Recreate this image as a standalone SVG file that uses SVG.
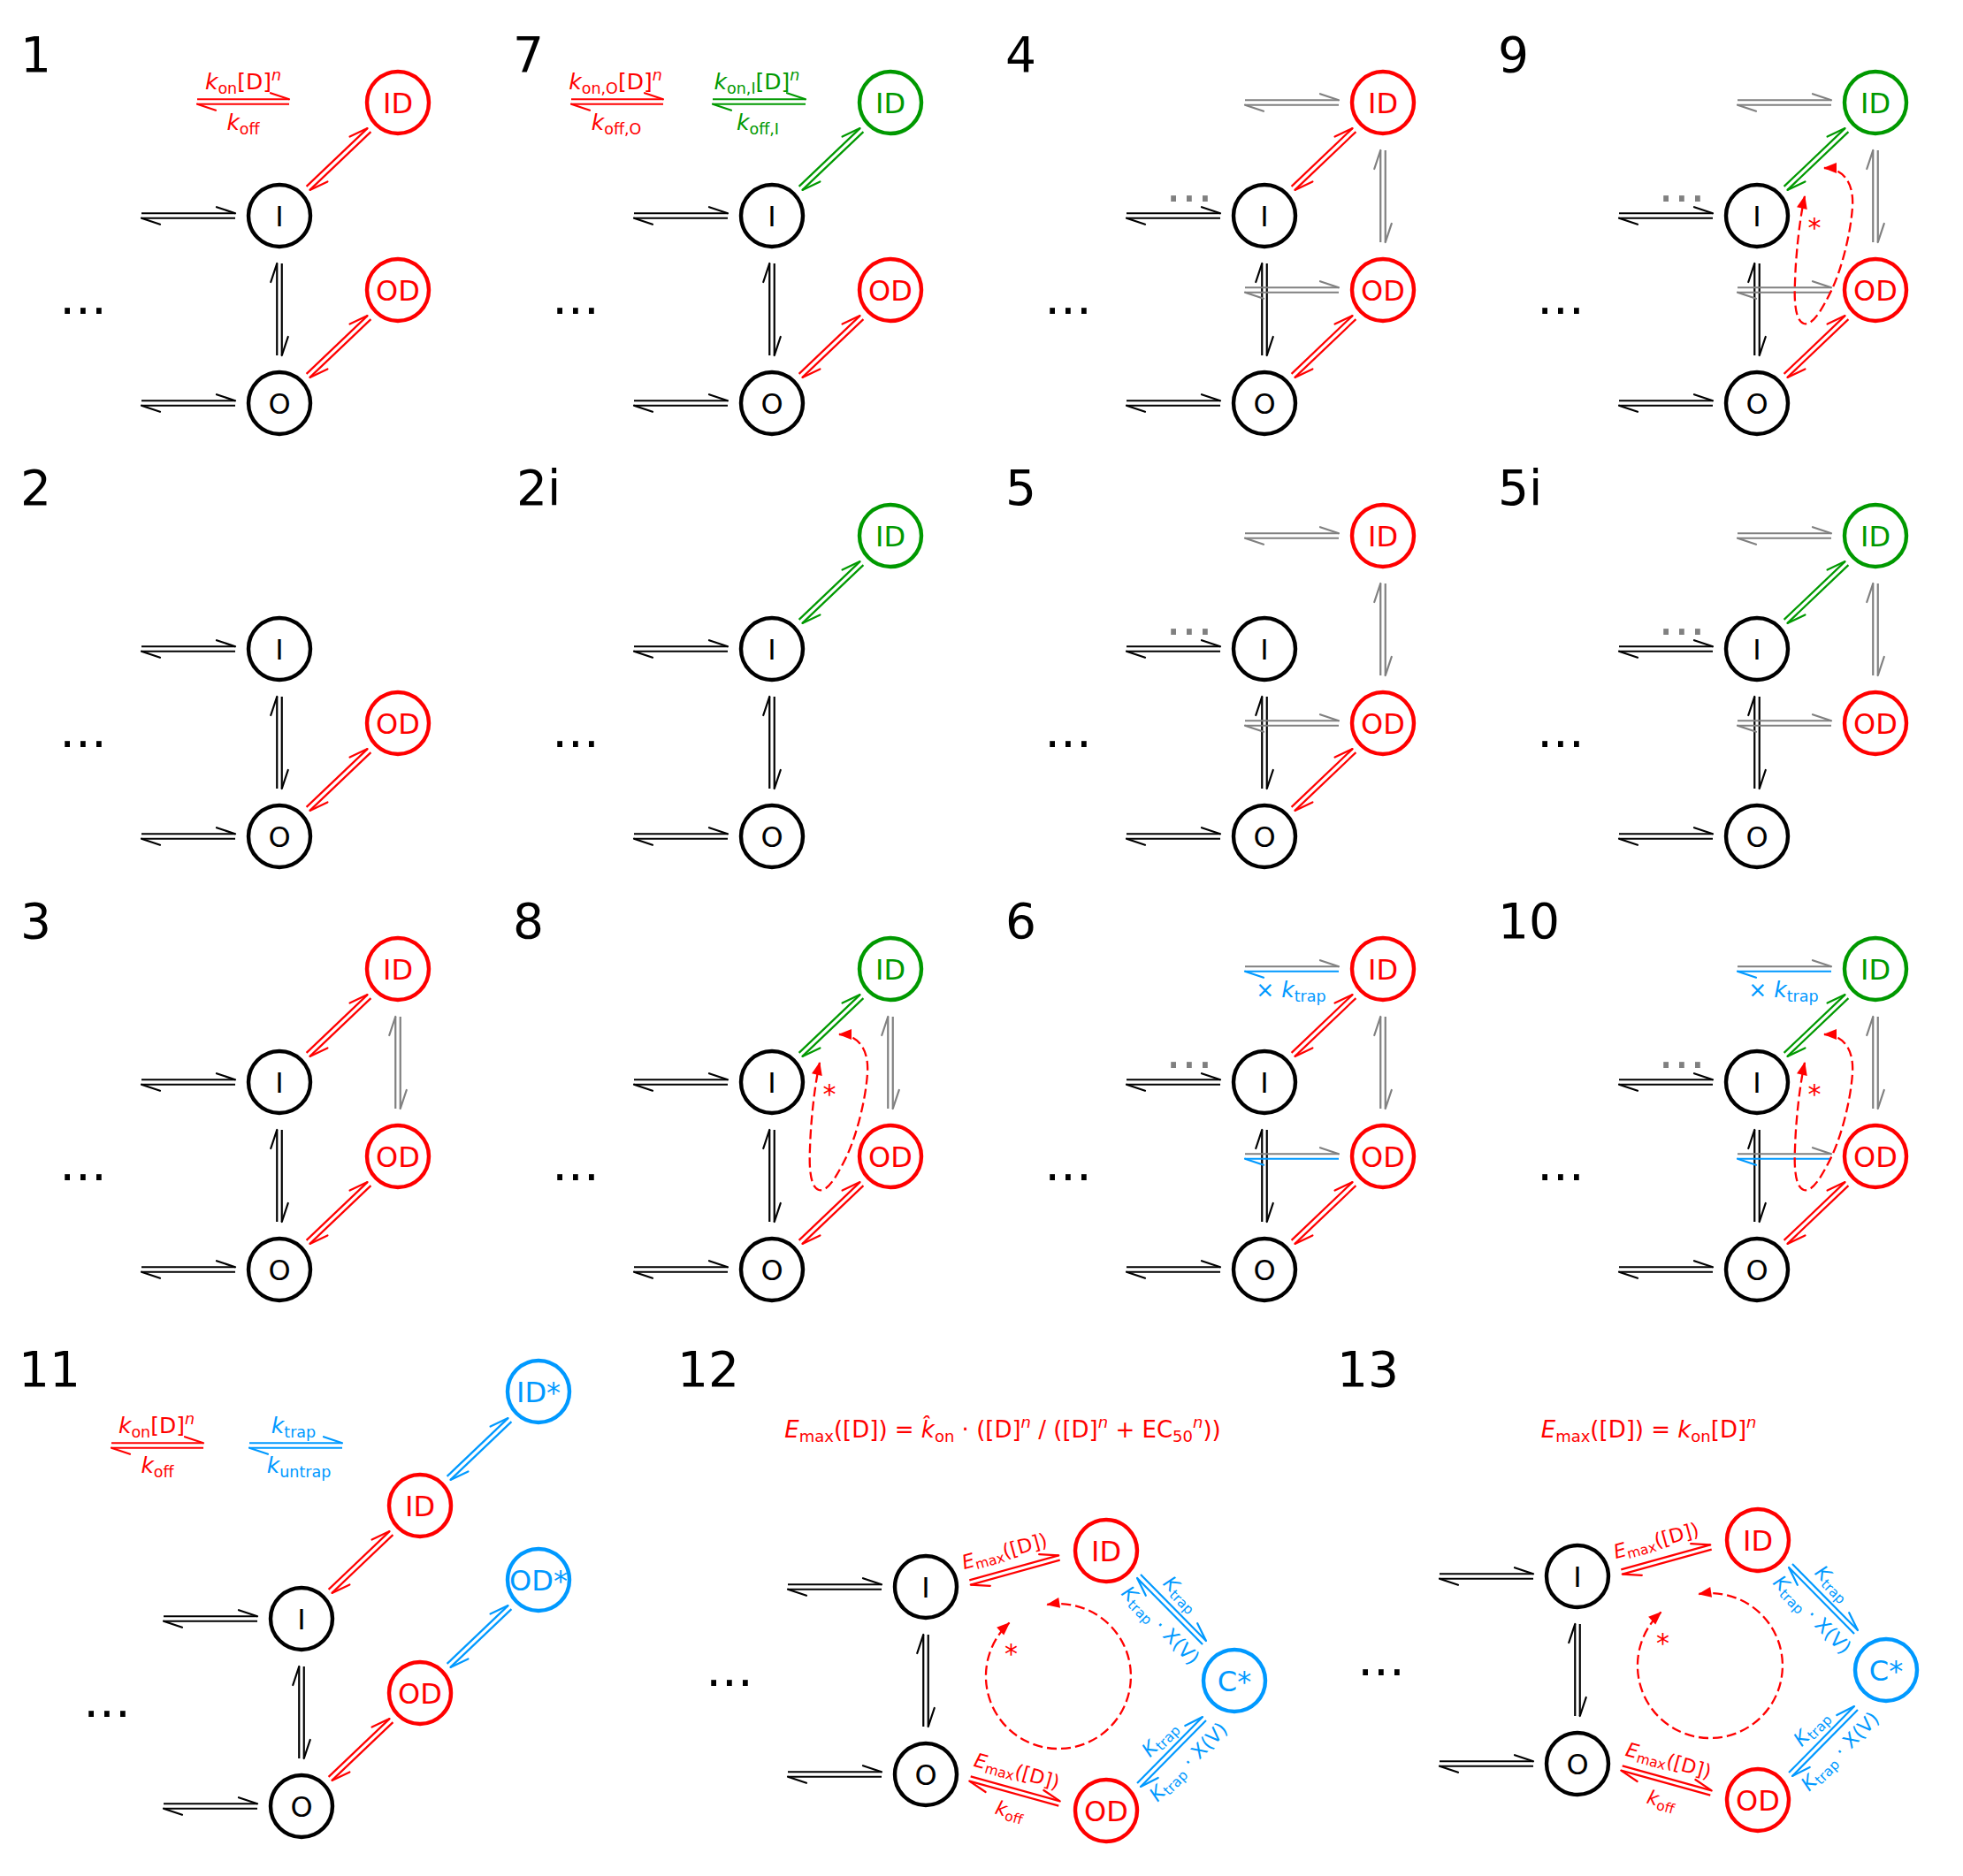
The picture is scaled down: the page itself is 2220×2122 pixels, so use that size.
<svg xmlns="http://www.w3.org/2000/svg" width="2220" height="2122" viewBox="0 0 2220 2122">
<defs>
<style>
text{font-family:"DejaVu Sans","Liberation Sans",sans-serif}
.pl{font-size:55px;fill:#000}
.nt{font-size:32px;text-anchor:middle}
.ck{fill:#fff;stroke:#000;stroke-width:4.4}
.cr{fill:#fff;stroke:#f00;stroke-width:4.4}
.cg{fill:#fff;stroke:#090;stroke-width:4.4}
.cb{fill:#fff;stroke:#09f;stroke-width:4.4}
.tk{fill:#000}.tr{fill:#f00}.tg{fill:#090}.tb{fill:#09f}.tgr{fill:#808080}
.cn{fill:none;stroke-width:2.2}
.k{stroke:#000;marker-end:url(#mk)}
.r{stroke:#f00;marker-end:url(#mr)}
.g{stroke:#090;marker-end:url(#mg)}
.b{stroke:#09f;marker-end:url(#mb)}
.y{stroke:#808080;marker-end:url(#my)}
.dash{fill:none;stroke:#f00;stroke-width:2.3;stroke-dasharray:11 5;marker-start:url(#ah);marker-end:url(#ah)}
.it{font-style:italic}
.lg{font-size:25px;text-anchor:middle}
.al{font-size:22px;text-anchor:middle}
.el{font-size:56px;text-anchor:middle}
.st{font-size:30px;text-anchor:middle;fill:#f00}
</style>
<marker id="mk" markerUnits="userSpaceOnUse" orient="auto" refX="0" refY="0" markerWidth="1" markerHeight="1" style="overflow:visible"><path d="M0,0L-21,-7" fill="none" stroke="#000" stroke-width="2.2" stroke-linecap="round"/></marker>
<marker id="mr" markerUnits="userSpaceOnUse" orient="auto" refX="0" refY="0" markerWidth="1" markerHeight="1" style="overflow:visible"><path d="M0,0L-21,-7" fill="none" stroke="#f00" stroke-width="2.2" stroke-linecap="round"/></marker>
<marker id="mg" markerUnits="userSpaceOnUse" orient="auto" refX="0" refY="0" markerWidth="1" markerHeight="1" style="overflow:visible"><path d="M0,0L-21,-7" fill="none" stroke="#090" stroke-width="2.2" stroke-linecap="round"/></marker>
<marker id="mb" markerUnits="userSpaceOnUse" orient="auto" refX="0" refY="0" markerWidth="1" markerHeight="1" style="overflow:visible"><path d="M0,0L-21,-7" fill="none" stroke="#09f" stroke-width="2.2" stroke-linecap="round"/></marker>
<marker id="my" markerUnits="userSpaceOnUse" orient="auto" refX="0" refY="0" markerWidth="1" markerHeight="1" style="overflow:visible"><path d="M0,0L-21,-7" fill="none" stroke="#808080" stroke-width="2.2" stroke-linecap="round"/></marker>
<marker id="ah" markerUnits="userSpaceOnUse" orient="auto-start-reverse" refX="0" refY="0" markerWidth="1" markerHeight="1" style="overflow:visible"><path d="M1,0L-14,-6L-14,6Z" fill="#f00"/></marker>
</defs>
<rect width="2220" height="2122" fill="#fff"/>

<!-- Panel 1 -->
<g id="p1">
<text class="pl" x="23" y="81">1</text>
<g transform="translate(316,244)">
<g id="p1-conn" class="cn">
<path class="k" d="M-156,-2.75H-50"/><path class="k" d="M-50,2.75H-156"/><path class="k" d="M-156,209.25H-50"/><path class="k" d="M-50,214.75H-156"/><path class="k" d="M-2.75,158V54"/><path class="k" d="M2.75,54V158"/>
<path class="r" d="M30.6,-33.1L99.6,-98.9"/><path class="r" d="M103.4,-94.9L34.4,-29.1"/>
<path class="r" d="M30.6,178.9L99.6,113.1"/><path class="r" d="M103.4,117.1L34.4,182.9"/>
<path class="r" d="M-93,-131.75H11"/><path class="r" d="M11,-126.25H-93"/>
</g>
<text class="lg tr" x="-41" y="-143.5"><tspan class="it">k</tspan><tspan font-size="17.5" dy="5">on</tspan><tspan dy="-5">[D]</tspan><tspan class="it" font-size="17.5" dy="-10">n</tspan></text>
<text class="lg tr" x="-41" y="-97.5"><tspan class="it">k</tspan><tspan font-size="17.5" dy="5">off</tspan></text>
<text class="el tk" x="-222" y="111">...</text>
<g id="p1-I"><circle class="ck" r="35"/><text class="nt tk" y="11.7">I</text></g>
<g id="p1-O"><circle class="ck" cy="212" r="35"/><text class="nt tk" y="223.7">O</text></g>
<g id="p1-ID"><circle class="cr" cx="134" cy="-128" r="35"/><text class="nt tr" x="134" y="-116.3">ID</text></g>
<g id="p1-OD"><circle class="cr" cx="134" cy="84" r="35"/><text class="nt tr" x="134" y="95.7">OD</text></g>
</g>
</g>

<!-- Panel 7 -->
<g id="p7">
<text class="pl" x="580" y="81">7</text>
<g transform="translate(873,244)">
<g id="p7-conn" class="cn">
<path class="k" d="M-156,-2.75H-50"/><path class="k" d="M-50,2.75H-156"/><path class="k" d="M-156,209.25H-50"/><path class="k" d="M-50,214.75H-156"/><path class="k" d="M-2.75,158V54"/><path class="k" d="M2.75,54V158"/>
<path class="g" d="M30.6,-33.1L99.6,-98.9"/><path class="g" d="M103.4,-94.9L34.4,-29.1"/>
<path class="r" d="M30.6,178.9L99.6,113.1"/><path class="r" d="M103.4,117.1L34.4,182.9"/>
<path class="r" d="M-227,-131.75H-123"/><path class="r" d="M-123,-126.25H-227"/>
<path class="g" d="M-67,-131.75H38"/><path class="g" d="M38,-126.25H-67"/>
</g>
<text class="lg tr" x="-177" y="-143.5"><tspan class="it">k</tspan><tspan font-size="17.5" dy="5">on,O</tspan><tspan dy="-5">[D]</tspan><tspan class="it" font-size="17.5" dy="-10">n</tspan></text>
<text class="lg tr" x="-176" y="-97.5"><tspan class="it">k</tspan><tspan font-size="17.5" dy="5">off,O</tspan></text>
<text class="lg tg" x="-17" y="-143.5"><tspan class="it">k</tspan><tspan font-size="17.5" dy="5">on,I</tspan><tspan dy="-5">[D]</tspan><tspan class="it" font-size="17.5" dy="-10">n</tspan></text>
<text class="lg tg" x="-16" y="-97.5"><tspan class="it">k</tspan><tspan font-size="17.5" dy="5">off,I</tspan></text>
<text class="el tk" x="-222" y="111">...</text>
<g id="p7-I"><circle class="ck" r="35"/><text class="nt tk" y="11.7">I</text></g>
<g id="p7-O"><circle class="ck" cy="212" r="35"/><text class="nt tk" y="223.7">O</text></g>
<g id="p7-ID"><circle class="cg" cx="134" cy="-128" r="35"/><text class="nt tg" x="134" y="-116.3">ID</text></g>
<g id="p7-OD"><circle class="cr" cx="134" cy="84" r="35"/><text class="nt tr" x="134" y="95.7">OD</text></g>
</g>
</g>

<!-- Panel 4 -->
<g id="p4">
<text class="pl" x="1137" y="81">4</text>
<g transform="translate(1430,244)">
<g id="p4-conn" class="cn">
<path class="k" d="M-156,-2.75H-50"/><path class="k" d="M-50,2.75H-156"/><path class="k" d="M-156,209.25H-50"/><path class="k" d="M-50,214.75H-156"/><path class="k" d="M-2.75,158V54"/><path class="k" d="M2.75,54V158"/>
<path class="y" d="M-22,-130.75H84"/><path class="y" d="M84,-125.25H-22"/>
<path class="y" d="M-22,81.25H84"/><path class="y" d="M84,86.75H-22"/>
<path class="y" d="M131.25,30V-74"/><path class="y" d="M136.75,-74V30"/>
<path class="r" d="M30.6,-33.1L99.6,-98.9"/><path class="r" d="M103.4,-94.9L34.4,-29.1"/>
<path class="r" d="M30.6,178.9L99.6,113.1"/><path class="r" d="M103.4,117.1L34.4,182.9"/>
</g>
<text class="el tk" x="-222" y="111">...</text>
<text class="el tgr" x="-85" y="-16">...</text>
<g id="p4-I"><circle class="ck" r="35"/><text class="nt tk" y="11.7">I</text></g>
<g id="p4-O"><circle class="ck" cy="212" r="35"/><text class="nt tk" y="223.7">O</text></g>
<g id="p4-ID"><circle class="cr" cx="134" cy="-128" r="35"/><text class="nt tr" x="134" y="-116.3">ID</text></g>
<g id="p4-OD"><circle class="cr" cx="134" cy="84" r="35"/><text class="nt tr" x="134" y="95.7">OD</text></g>
</g>
</g>

<!-- Panel 9 -->
<g id="p9">
<text class="pl" x="1694" y="81">9</text>
<g transform="translate(1987,244)">
<g id="p9-conn" class="cn">
<path class="k" d="M-156,-2.75H-50"/><path class="k" d="M-50,2.75H-156"/><path class="k" d="M-156,209.25H-50"/><path class="k" d="M-50,214.75H-156"/><path class="k" d="M-2.75,158V54"/><path class="k" d="M2.75,54V158"/>
<path class="y" d="M-22,-130.75H84"/><path class="y" d="M84,-125.25H-22"/>
<path class="y" d="M-22,81.25H84"/><path class="y" d="M84,86.75H-22"/>
<path class="y" d="M131.25,30V-74"/><path class="y" d="M136.75,-74V30"/>
<path class="g" d="M30.6,-33.1L99.6,-98.9"/><path class="g" d="M103.4,-94.9L34.4,-29.1"/>
<path class="r" d="M30.6,178.9L99.6,113.1"/><path class="r" d="M103.4,117.1L34.4,182.9"/>
<path class="dash" d="M76,-54C95,-54 110,-40 108,-10C106,20 96,60 84,85C74,105 63,125 53,122C43,119 42,95 43,75C44,40 49,0 54,-22"/>
</g>
<text class="st" x="65" y="24">*</text>
<text class="el tk" x="-222" y="111">...</text>
<text class="el tgr" x="-85" y="-16">...</text>
<g id="p9-I"><circle class="ck" r="35"/><text class="nt tk" y="11.7">I</text></g>
<g id="p9-O"><circle class="ck" cy="212" r="35"/><text class="nt tk" y="223.7">O</text></g>
<g id="p9-ID"><circle class="cg" cx="134" cy="-128" r="35"/><text class="nt tg" x="134" y="-116.3">ID</text></g>
<g id="p9-OD"><circle class="cr" cx="134" cy="84" r="35"/><text class="nt tr" x="134" y="95.7">OD</text></g>
</g>
</g>

<!-- Panel 2 -->
<g id="p2">
<text class="pl" x="23" y="571">2</text>
<g transform="translate(316,734)">
<g id="p2-conn" class="cn">
<path class="k" d="M-156,-2.75H-50"/><path class="k" d="M-50,2.75H-156"/><path class="k" d="M-156,209.25H-50"/><path class="k" d="M-50,214.75H-156"/><path class="k" d="M-2.75,158V54"/><path class="k" d="M2.75,54V158"/>
<path class="r" d="M30.6,178.9L99.6,113.1"/><path class="r" d="M103.4,117.1L34.4,182.9"/>
</g>
<text class="el tk" x="-222" y="111">...</text>
<g id="p2-I"><circle class="ck" r="35"/><text class="nt tk" y="11.7">I</text></g>
<g id="p2-O"><circle class="ck" cy="212" r="35"/><text class="nt tk" y="223.7">O</text></g>
<g id="p2-OD"><circle class="cr" cx="134" cy="84" r="35"/><text class="nt tr" x="134" y="95.7">OD</text></g>
</g>
</g>

<!-- Panel 2i -->
<g id="p2i">
<text class="pl" x="584" y="571">2i</text>
<g transform="translate(873,734)">
<g id="p2i-conn" class="cn">
<path class="k" d="M-156,-2.75H-50"/><path class="k" d="M-50,2.75H-156"/><path class="k" d="M-156,209.25H-50"/><path class="k" d="M-50,214.75H-156"/><path class="k" d="M-2.75,158V54"/><path class="k" d="M2.75,54V158"/>
<path class="g" d="M30.6,-33.1L99.6,-98.9"/><path class="g" d="M103.4,-94.9L34.4,-29.1"/>
</g>
<text class="el tk" x="-222" y="111">...</text>
<g id="p2i-I"><circle class="ck" r="35"/><text class="nt tk" y="11.7">I</text></g>
<g id="p2i-O"><circle class="ck" cy="212" r="35"/><text class="nt tk" y="223.7">O</text></g>
<g id="p2i-ID"><circle class="cg" cx="134" cy="-128" r="35"/><text class="nt tg" x="134" y="-116.3">ID</text></g>
</g>
</g>

<!-- Panel 5 -->
<g id="p5">
<text class="pl" x="1137" y="571">5</text>
<g transform="translate(1430,734)">
<g id="p5-conn" class="cn">
<path class="k" d="M-156,-2.75H-50"/><path class="k" d="M-50,2.75H-156"/><path class="k" d="M-156,209.25H-50"/><path class="k" d="M-50,214.75H-156"/><path class="k" d="M-2.75,158V54"/><path class="k" d="M2.75,54V158"/>
<path class="y" d="M-22,-130.75H84"/><path class="y" d="M84,-125.25H-22"/>
<path class="y" d="M-22,81.25H84"/><path class="y" d="M84,86.75H-22"/>
<path class="y" d="M131.25,30V-74"/><path class="y" d="M136.75,-74V30"/>
<path class="r" d="M30.6,178.9L99.6,113.1"/><path class="r" d="M103.4,117.1L34.4,182.9"/>
</g>
<text class="el tk" x="-222" y="111">...</text>
<text class="el tgr" x="-85" y="-16">...</text>
<g id="p5-I"><circle class="ck" r="35"/><text class="nt tk" y="11.7">I</text></g>
<g id="p5-O"><circle class="ck" cy="212" r="35"/><text class="nt tk" y="223.7">O</text></g>
<g id="p5-ID"><circle class="cr" cx="134" cy="-128" r="35"/><text class="nt tr" x="134" y="-116.3">ID</text></g>
<g id="p5-OD"><circle class="cr" cx="134" cy="84" r="35"/><text class="nt tr" x="134" y="95.7">OD</text></g>
</g>
</g>

<!-- Panel 5i -->
<g id="p5i">
<text class="pl" x="1694" y="571">5i</text>
<g transform="translate(1987,734)">
<g id="p5i-conn" class="cn">
<path class="k" d="M-156,-2.75H-50"/><path class="k" d="M-50,2.75H-156"/><path class="k" d="M-156,209.25H-50"/><path class="k" d="M-50,214.75H-156"/><path class="k" d="M-2.75,158V54"/><path class="k" d="M2.75,54V158"/>
<path class="y" d="M-22,-130.75H84"/><path class="y" d="M84,-125.25H-22"/>
<path class="y" d="M-22,81.25H84"/><path class="y" d="M84,86.75H-22"/>
<path class="y" d="M131.25,30V-74"/><path class="y" d="M136.75,-74V30"/>
<path class="g" d="M30.6,-33.1L99.6,-98.9"/><path class="g" d="M103.4,-94.9L34.4,-29.1"/>
</g>
<text class="el tk" x="-222" y="111">...</text>
<text class="el tgr" x="-85" y="-16">...</text>
<g id="p5i-I"><circle class="ck" r="35"/><text class="nt tk" y="11.7">I</text></g>
<g id="p5i-O"><circle class="ck" cy="212" r="35"/><text class="nt tk" y="223.7">O</text></g>
<g id="p5i-ID"><circle class="cg" cx="134" cy="-128" r="35"/><text class="nt tg" x="134" y="-116.3">ID</text></g>
<g id="p5i-OD"><circle class="cr" cx="134" cy="84" r="35"/><text class="nt tr" x="134" y="95.7">OD</text></g>
</g>
</g>

<!-- Panel 3 -->
<g id="p3">
<text class="pl" x="23" y="1061">3</text>
<g transform="translate(316,1224)">
<g id="p3-conn" class="cn">
<path class="k" d="M-156,-2.75H-50"/><path class="k" d="M-50,2.75H-156"/><path class="k" d="M-156,209.25H-50"/><path class="k" d="M-50,214.75H-156"/><path class="k" d="M-2.75,158V54"/><path class="k" d="M2.75,54V158"/>
<path class="y" d="M131.25,30V-74"/><path class="y" d="M136.75,-74V30"/>
<path class="r" d="M30.6,-33.1L99.6,-98.9"/><path class="r" d="M103.4,-94.9L34.4,-29.1"/>
<path class="r" d="M30.6,178.9L99.6,113.1"/><path class="r" d="M103.4,117.1L34.4,182.9"/>
</g>
<text class="el tk" x="-222" y="111">...</text>
<g id="p3-I"><circle class="ck" r="35"/><text class="nt tk" y="11.7">I</text></g>
<g id="p3-O"><circle class="ck" cy="212" r="35"/><text class="nt tk" y="223.7">O</text></g>
<g id="p3-ID"><circle class="cr" cx="134" cy="-128" r="35"/><text class="nt tr" x="134" y="-116.3">ID</text></g>
<g id="p3-OD"><circle class="cr" cx="134" cy="84" r="35"/><text class="nt tr" x="134" y="95.7">OD</text></g>
</g>
</g>

<!-- Panel 8 -->
<g id="p8">
<text class="pl" x="580" y="1061">8</text>
<g transform="translate(873,1224)">
<g id="p8-conn" class="cn">
<path class="k" d="M-156,-2.75H-50"/><path class="k" d="M-50,2.75H-156"/><path class="k" d="M-156,209.25H-50"/><path class="k" d="M-50,214.75H-156"/><path class="k" d="M-2.75,158V54"/><path class="k" d="M2.75,54V158"/>
<path class="y" d="M131.25,30V-74"/><path class="y" d="M136.75,-74V30"/>
<path class="g" d="M30.6,-33.1L99.6,-98.9"/><path class="g" d="M103.4,-94.9L34.4,-29.1"/>
<path class="r" d="M30.6,178.9L99.6,113.1"/><path class="r" d="M103.4,117.1L34.4,182.9"/>
<path class="dash" d="M76,-54C95,-54 110,-40 108,-10C106,20 96,60 84,85C74,105 63,125 53,122C43,119 42,95 43,75C44,40 49,0 54,-22"/>
</g>
<text class="st" x="65" y="24">*</text>
<text class="el tk" x="-222" y="111">...</text>
<g id="p8-I"><circle class="ck" r="35"/><text class="nt tk" y="11.7">I</text></g>
<g id="p8-O"><circle class="ck" cy="212" r="35"/><text class="nt tk" y="223.7">O</text></g>
<g id="p8-ID"><circle class="cg" cx="134" cy="-128" r="35"/><text class="nt tg" x="134" y="-116.3">ID</text></g>
<g id="p8-OD"><circle class="cr" cx="134" cy="84" r="35"/><text class="nt tr" x="134" y="95.7">OD</text></g>
</g>
</g>

<!-- Panel 6 -->
<g id="p6">
<text class="pl" x="1137" y="1061">6</text>
<g transform="translate(1430,1224)">
<g id="p6-conn" class="cn">
<path class="k" d="M-156,-2.75H-50"/><path class="k" d="M-50,2.75H-156"/><path class="k" d="M-156,209.25H-50"/><path class="k" d="M-50,214.75H-156"/><path class="k" d="M-2.75,158V54"/><path class="k" d="M2.75,54V158"/>
<path class="y" d="M-22,-130.75H84"/><path class="b" d="M84,-125.25H-22"/>
<path class="y" d="M-22,81.25H84"/><path class="b" d="M84,86.75H-22"/>
<path class="y" d="M131.25,30V-74"/><path class="y" d="M136.75,-74V30"/>
<path class="r" d="M30.6,-33.1L99.6,-98.9"/><path class="r" d="M103.4,-94.9L34.4,-29.1"/>
<path class="r" d="M30.6,178.9L99.6,113.1"/><path class="r" d="M103.4,117.1L34.4,182.9"/>
</g>
<text class="lg tb" x="30" y="-96">&#xD7; <tspan class="it">k</tspan><tspan font-size="17.5" dy="5">trap</tspan></text>
<text class="el tk" x="-222" y="111">...</text>
<text class="el tgr" x="-85" y="-16">...</text>
<g id="p6-I"><circle class="ck" r="35"/><text class="nt tk" y="11.7">I</text></g>
<g id="p6-O"><circle class="ck" cy="212" r="35"/><text class="nt tk" y="223.7">O</text></g>
<g id="p6-ID"><circle class="cr" cx="134" cy="-128" r="35"/><text class="nt tr" x="134" y="-116.3">ID</text></g>
<g id="p6-OD"><circle class="cr" cx="134" cy="84" r="35"/><text class="nt tr" x="134" y="95.7">OD</text></g>
</g>
</g>

<!-- Panel 10 -->
<g id="p10">
<text class="pl" x="1694" y="1061">10</text>
<g transform="translate(1987,1224)">
<g id="p10-conn" class="cn">
<path class="k" d="M-156,-2.75H-50"/><path class="k" d="M-50,2.75H-156"/><path class="k" d="M-156,209.25H-50"/><path class="k" d="M-50,214.75H-156"/><path class="k" d="M-2.75,158V54"/><path class="k" d="M2.75,54V158"/>
<path class="y" d="M-22,-130.75H84"/><path class="b" d="M84,-125.25H-22"/>
<path class="y" d="M-22,81.25H84"/><path class="b" d="M84,86.75H-22"/>
<path class="y" d="M131.25,30V-74"/><path class="y" d="M136.75,-74V30"/>
<path class="g" d="M30.6,-33.1L99.6,-98.9"/><path class="g" d="M103.4,-94.9L34.4,-29.1"/>
<path class="r" d="M30.6,178.9L99.6,113.1"/><path class="r" d="M103.4,117.1L34.4,182.9"/>
<path class="dash" d="M76,-54C95,-54 110,-40 108,-10C106,20 96,60 84,85C74,105 63,125 53,122C43,119 42,95 43,75C44,40 49,0 54,-22"/>
</g>
<text class="st" x="65" y="24">*</text>
<text class="lg tb" x="30" y="-96">&#xD7; <tspan class="it">k</tspan><tspan font-size="17.5" dy="5">trap</tspan></text>
<text class="el tk" x="-222" y="111">...</text>
<text class="el tgr" x="-85" y="-16">...</text>
<g id="p10-I"><circle class="ck" r="35"/><text class="nt tk" y="11.7">I</text></g>
<g id="p10-O"><circle class="ck" cy="212" r="35"/><text class="nt tk" y="223.7">O</text></g>
<g id="p10-ID"><circle class="cg" cx="134" cy="-128" r="35"/><text class="nt tg" x="134" y="-116.3">ID</text></g>
<g id="p10-OD"><circle class="cr" cx="134" cy="84" r="35"/><text class="nt tr" x="134" y="95.7">OD</text></g>
</g>
</g>

<!-- Panel 11 -->
<g id="p11">
<text class="pl" x="21" y="1568">11</text>
<g transform="translate(341,1831)">
<g id="p11-conn" class="cn">
<path class="k" d="M-156,-2.75H-50"/><path class="k" d="M-50,2.75H-156"/><path class="k" d="M-156,209.25H-50"/><path class="k" d="M-50,214.75H-156"/><path class="k" d="M-2.75,158V54"/><path class="k" d="M2.75,54V158"/>
<path class="r" d="M30.6,-33.1L99.6,-98.9"/><path class="r" d="M103.4,-94.9L34.4,-29.1"/>
<path class="r" d="M30.6,178.9L99.6,113.1"/><path class="r" d="M103.4,117.1L34.4,182.9"/>
<path class="b" d="M164.6,-161.1L233.6,-226.9"/><path class="b" d="M237.4,-222.9L168.4,-157.1"/>
<path class="b" d="M164.6,50.9L233.6,-14.9"/><path class="b" d="M237.4,-10.9L168.4,54.9"/>
<path class="r" d="M-215,-198.75H-111"/><path class="r" d="M-111,-193.25H-215"/>
<path class="b" d="M-59,-198.75H46"/><path class="b" d="M46,-193.25H-59"/>
</g>
<text class="lg tr" x="-164" y="-210"><tspan class="it">k</tspan><tspan font-size="17.5" dy="5">on</tspan><tspan dy="-5">[D]</tspan><tspan class="it" font-size="17.5" dy="-10">n</tspan></text>
<text class="lg tr" x="-163" y="-165"><tspan class="it">k</tspan><tspan font-size="17.5" dy="5">off</tspan></text>
<text class="lg tb" x="-9" y="-210"><tspan class="it">k</tspan><tspan font-size="17.5" dy="5">trap</tspan></text>
<text class="lg tb" x="-3" y="-165"><tspan class="it">k</tspan><tspan font-size="17.5" dy="5">untrap</tspan></text>
<text class="el tk" x="-220" y="111">...</text>
<g id="p11-I"><circle class="ck" r="35"/><text class="nt tk" y="11.7">I</text></g>
<g id="p11-O"><circle class="ck" cy="212" r="35"/><text class="nt tk" y="223.7">O</text></g>
<g id="p11-ID"><circle class="cr" cx="134" cy="-128" r="35"/><text class="nt tr" x="134" y="-116.3">ID</text></g>
<g id="p11-OD"><circle class="cr" cx="134" cy="84" r="35"/><text class="nt tr" x="134" y="95.7">OD</text></g>
<g id="p11-IDs"><circle class="cb" cx="268" cy="-257" r="35"/><text class="nt tb" x="268" y="-245.3">ID*</text></g>
<g id="p11-ODs"><circle class="cb" cx="268" cy="-44" r="35"/><text class="nt tb" x="268" y="-32.3">OD*</text></g>
</g>
</g>

<!-- Panel 12 -->
<g id="p12">
<text class="pl" x="766" y="1568">12</text>
<g transform="translate(1047,1795)">
<g id="p12-conn" class="cn">
<path class="k" d="M-156,-2.75H-50"/><path class="k" d="M-50,2.75H-156"/><path class="k" d="M-156,209.25H-50"/><path class="k" d="M-50,214.75H-156"/><path class="k" d="M-2.75,158V54"/><path class="k" d="M2.75,54V158"/>
<path class="r" d="M49.27,-7.65L150.27,-35.65"/><path class="r" d="M151.73,-30.35L50.73,-2.35"/>
<path class="r" d="M50.73,214.35L151.73,242.35"/><path class="r" d="M150.27,247.65L49.27,219.65"/>
<path class="b" d="M242.96,-13.93L316.96,61.07"/><path class="b" d="M313.04,64.93L239.04,-10.07"/>
<path class="b" d="M239.04,222.07L313.04,147.07"/><path class="b" d="M316.96,150.93L242.96,225.93"/>
<path class="dash" d="M137.3,20A82,82 0 1 1 94.5,40.6"/>
</g>
<text class="tr" font-size="26" x="87" y="-169" text-anchor="middle"><tspan class="it">E</tspan><tspan font-size="18" dy="5">max</tspan><tspan dy="-5">([D]) = </tspan><tspan class="it">k&#x302;</tspan><tspan font-size="18" dy="5">on</tspan><tspan dy="-5"> &#xB7; ([D]</tspan><tspan class="it" font-size="18" dy="-11">n</tspan><tspan dy="11"> / ([D]</tspan><tspan class="it" font-size="18" dy="-11">n</tspan><tspan dy="11"> + EC</tspan><tspan font-size="18" dy="5">50</tspan><tspan class="it" font-size="18" dy="-16">n</tspan><tspan dy="11">))</tspan></text>
<text class="al tr" transform="translate(91,-33) rotate(-15.5)"><tspan class="it">E</tspan><tspan font-size="15.5" dy="4">max</tspan><tspan dy="-4">([D])</tspan></text>
<text class="al tr" transform="translate(101,215.7) rotate(15.5)"><tspan class="it">E</tspan><tspan font-size="15.5" dy="4">max</tspan><tspan dy="-4">([D])</tspan></text>
<text class="al tr" transform="translate(93,260.7) rotate(15.5)"><tspan class="it">k</tspan><tspan font-size="15.5" dy="4">off</tspan></text>
<text class="al tb" transform="translate(283.4,13.1) rotate(45.4)"><tspan class="it">K</tspan><tspan font-size="15.5" dy="4">trap</tspan></text>
<text class="al tb" transform="translate(260.1,48.7) rotate(45.4)"><tspan class="it">K</tspan><tspan font-size="15.5" dy="4">trap</tspan><tspan dy="-4"> &#xB7; X(V)</tspan></text>
<text class="al tb" transform="translate(269.8,177) rotate(-45.4)"><tspan class="it">K</tspan><tspan font-size="15.5" dy="4">trap</tspan></text>
<text class="al tb" transform="translate(302.3,203.2) rotate(-45.4)"><tspan class="it">K</tspan><tspan font-size="15.5" dy="4">trap</tspan><tspan dy="-4"> &#xB7; X(V)</tspan></text>
<text class="st" x="96.4" y="86">*</text>
<text class="el tk" x="-222" y="112">...</text>
<g id="p12-I"><circle class="ck" r="35"/><text class="nt tk" y="11.7">I</text></g>
<g id="p12-O"><circle class="ck" cy="212" r="35"/><text class="nt tk" y="223.7">O</text></g>
<g id="p12-ID"><circle class="cr" cx="204" cy="-41" r="35"/><text class="nt tr" x="204" y="-29.3">ID</text></g>
<g id="p12-OD"><circle class="cr" cx="204" cy="253" r="35"/><text class="nt tr" x="204" y="264.7">OD</text></g>
<g id="p12-C"><circle class="cb" cx="349" cy="106" r="35"/><text class="nt tb" x="349" y="117.7">C*</text></g>
</g>
</g>

<!-- Panel 13 -->
<g id="p13">
<text class="pl" x="1512" y="1568">13</text>
<g transform="translate(1784,1783)">
<g id="p13-conn" class="cn">
<path class="k" d="M-156,-2.75H-50"/><path class="k" d="M-50,2.75H-156"/><path class="k" d="M-156,209.25H-50"/><path class="k" d="M-50,214.75H-156"/><path class="k" d="M-2.75,158V54"/><path class="k" d="M2.75,54V158"/>
<path class="r" d="M49.27,-7.65L150.27,-35.65"/><path class="r" d="M151.73,-30.35L50.73,-2.35"/>
<path class="r" d="M50.73,214.35L151.73,242.35"/><path class="r" d="M150.27,247.65L49.27,219.65"/>
<path class="b" d="M242.96,-13.93L316.96,61.07"/><path class="b" d="M313.04,64.93L239.04,-10.07"/>
<path class="b" d="M239.04,222.07L313.04,147.07"/><path class="b" d="M316.96,150.93L242.96,225.93"/>
<path class="dash" d="M137.3,20A82,82 0 1 1 94.5,40.6"/>
</g>
<text class="tr" font-size="26" x="80.6" y="-157" text-anchor="middle"><tspan class="it">E</tspan><tspan font-size="18" dy="5">max</tspan><tspan dy="-5">([D]) = </tspan><tspan class="it">k</tspan><tspan font-size="18" dy="5">on</tspan><tspan dy="-5">[D]</tspan><tspan class="it" font-size="18" dy="-11">n</tspan></text>
<text class="al tr" transform="translate(91,-33) rotate(-15.5)"><tspan class="it">E</tspan><tspan font-size="15.5" dy="4">max</tspan><tspan dy="-4">([D])</tspan></text>
<text class="al tr" transform="translate(101,215.7) rotate(15.5)"><tspan class="it">E</tspan><tspan font-size="15.5" dy="4">max</tspan><tspan dy="-4">([D])</tspan></text>
<text class="al tr" transform="translate(93,260.7) rotate(15.5)"><tspan class="it">k</tspan><tspan font-size="15.5" dy="4">off</tspan></text>
<text class="al tb" transform="translate(283.4,13.1) rotate(45.4)"><tspan class="it">K</tspan><tspan font-size="15.5" dy="4">trap</tspan></text>
<text class="al tb" transform="translate(260.1,48.7) rotate(45.4)"><tspan class="it">K</tspan><tspan font-size="15.5" dy="4">trap</tspan><tspan dy="-4"> &#xB7; X(V)</tspan></text>
<text class="al tb" transform="translate(269.8,177) rotate(-45.4)"><tspan class="it">K</tspan><tspan font-size="15.5" dy="4">trap</tspan></text>
<text class="al tb" transform="translate(302.3,203.2) rotate(-45.4)"><tspan class="it">K</tspan><tspan font-size="15.5" dy="4">trap</tspan><tspan dy="-4"> &#xB7; X(V)</tspan></text>
<text class="st" x="96.4" y="86">*</text>
<text class="el tk" x="-222" y="112">...</text>
<g id="p13-I"><circle class="ck" r="35"/><text class="nt tk" y="11.7">I</text></g>
<g id="p13-O"><circle class="ck" cy="212" r="35"/><text class="nt tk" y="223.7">O</text></g>
<g id="p13-ID"><circle class="cr" cx="204" cy="-41" r="35"/><text class="nt tr" x="204" y="-29.3">ID</text></g>
<g id="p13-OD"><circle class="cr" cx="204" cy="253" r="35"/><text class="nt tr" x="204" y="264.7">OD</text></g>
<g id="p13-C"><circle class="cb" cx="349" cy="106" r="35"/><text class="nt tb" x="349" y="117.7">C*</text></g>
</g>
</g>
</svg>
